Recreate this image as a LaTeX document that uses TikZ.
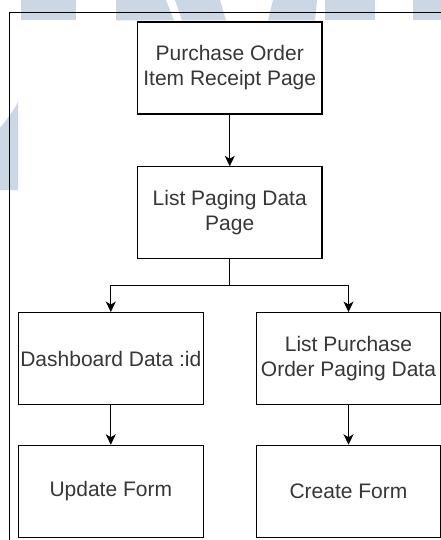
\documentclass[tikz,border=0pt]{standalone}
\usepackage{fontspec}
\setmainfont{Liberation Sans}
\usetikzlibrary{arrows.meta}
\definecolor{wmark}{RGB}{203,215,228}
\definecolor{txt}{RGB}{55,55,55}
\tikzset{
  page/.style={x=1pt,y=-1pt},
  pagebox/.style={draw=black,line width=1.1pt,fill=white,minimum width=184.5pt,
    minimum height=92pt,inner sep=0pt,align=center,text=txt,
    font=\fontsize{21}{25}\selectfont},
  link/.style={draw=black,line width=1.1pt},
  arr/.style={link,-{Stealth[length=10.5pt,width=10pt,inset=3pt]}},
  frame/.style={draw=black,line width=1pt},
  wm/.style={fill=wmark,draw=none}
}
\begin{document}
\begin{tikzpicture}[page]
\useasboundingbox (0,0) rectangle (441,540);
\fill[white] (0,0) rectangle (441,540);
% faint background lettering
\fill[wm] (21,0) rectangle (76,20.5);
\fill[wm] (116,0) -- (166,0) -- (174,20.5) -- (116,20.5) -- cycle;
\fill[wm] (175,0) -- (220,0) -- (226,20.5) -- (182,20.5) -- cycle;
\fill[wm] (273,0) -- (317,0) -- (315,20.5) -- (268,20.5) -- cycle;
\fill[wm] (325,0) rectangle (375,20.5);
\fill[wm] (413,0) rectangle (441,20.5);
\fill[wm] (0,190) -- (18,190) -- (18,102) .. controls (14,110) and (8,118) .. (0,128) -- cycle;
% outer frame
\draw[frame] (9.5,560) -- (9.5,13) -- (460,13);
% pages
\node[pagebox] (b1) at (229.75,68) {Purchase Order\\Item Receipt Page};
\node[pagebox] (b2) at (229.75,212.85) {List Paging Data\\Page};
\node[pagebox] (b3) at (110.8,358.6) {Dashboard Data :id};
\node[pagebox] (b4) at (348.5,358.6) {List Purchase\\Order Paging Data};
\node[pagebox] (b5) at (110.8,491.3) {Update Form};
\node[pagebox] (b6) at (348.5,491.3) {Create Form};
\coordinate (split) at (229.75,285.7);
% connectors
\draw[arr] (b1) -- (b2);
\draw[link] (b2) -- (split);
\draw[arr] (split) -| (b3);
\draw[arr] (split) -| (b4);
\draw[arr] (b3) -- (b5);
\draw[arr] (b4) -- (b6);
\end{tikzpicture}
\end{document}
